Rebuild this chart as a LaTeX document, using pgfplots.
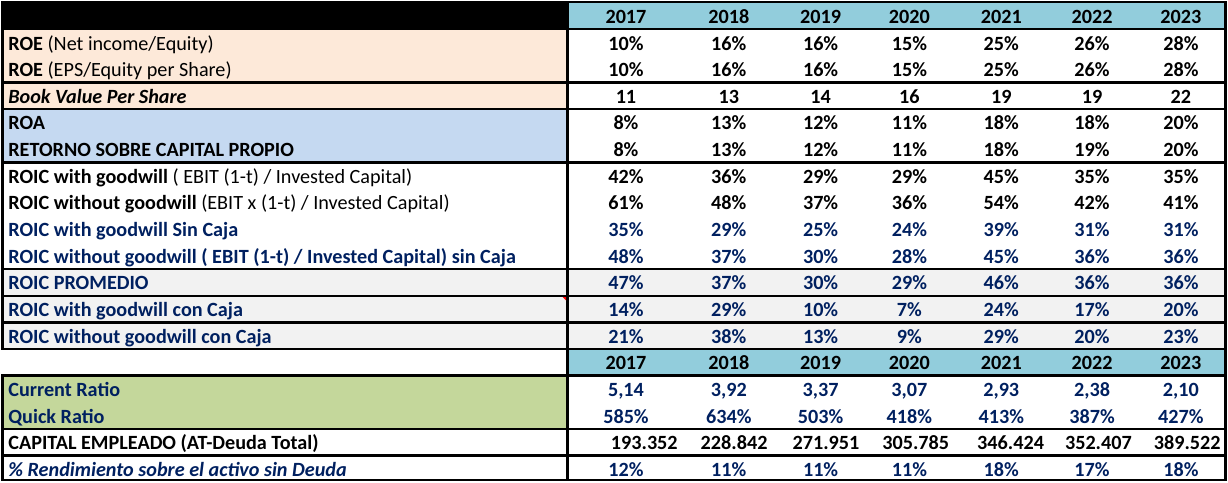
\documentclass[border=0pt]{standalone}
\usepackage{fontspec}
\setmainfont{Carlito}
\usepackage{pgfplots}
\usepackage{pgfplotstable}
\pgfplotsset{compat=1.18}
\definecolor{navy}{RGB}{0,32,96}
\definecolor{hdr}{HTML}{92CDDC}
\definecolor{peach}{HTML}{FDE9D9}
\definecolor{lblue}{HTML}{C5D9F1}
\definecolor{lgray}{HTML}{F2F2F2}
\definecolor{lgreen}{HTML}{C4D79B}
\newcommand\cf{\fontsize{20.3}{24}\selectfont}

\pgfplotstableread{
x    capx yr   roeA roeB bvps roa rsc rwg rwog rwgs rwogs prom rwgc rwogc cur  quick cap     rend
626  678  2017 10   10   11   8   8   42  61   35   48    47   14   21    5,14 585   193.352 12
729  768  2018 16   16   13   13  13  36  48   29   37    37   29   38    3,92 634   228.842 11
821  860  2019 16   16   14   12  12  29  37   25   30    30   10   13    3,37 503   271.951 11
910  950  2020 15   15   16   11  11  29  36   24   28    29   7    9     3,07 418   305.785 11
1002 1045 2021 25   25   19   18  18  45  54   39   45    46   24   29    2,93 413   346.424 18
1093 1133 2022 26   26   19   18  19  35  42   31   36    36   17   20    2,38 387   352.407 17
1182 1222 2023 28   28   22   20  20  35  41   31   36    36   20   23    2,10 427   389.522 18
}\data

\pgfplotsset{
  cell/.style={draw=none, mark=none, forget plot, nodes near coords,
    point meta=explicit symbolic,
    every node near coord/.append style={anchor=base, inner sep=0pt, font=\cf\bfseries, text=#1}},
  cell/.default=black,
  pct/.style={cell=#1, nodes near coords={\pgfplotspointmeta\%}},
  pct/.default=black,
}

\begin{document}
\begin{tikzpicture}
\begin{axis}[
  width=1228bp, height=481bp, scale only axis,
  xmin=0, xmax=1228, ymin=0, ymax=481, y dir=reverse,
  axis lines=none, clip=false,
]
% backgrounds
\fill[black]  (axis cs:0,0) rectangle (axis cs:567,28.1);
\fill[hdr]    (axis cs:567,0) rectangle (axis cs:1227,28.1);
\fill[hdr]    (axis cs:567,348.5) rectangle (axis cs:1227,375.2);
\fill[peach]  (axis cs:0,28.1) rectangle (axis cs:567,108.2);
\fill[lblue]  (axis cs:0,108.2) rectangle (axis cs:567,161.6);
\fill[lgray]  (axis cs:0,268.4) rectangle (axis cs:1227,348.5);
\fill[lgreen] (axis cs:0,375.2) rectangle (axis cs:567,428.6);
% borders
\draw[line width=2.4bp] (axis cs:0,1) -- (axis cs:1228,1);
\draw[line width=2.4bp] (axis cs:0,28.1) -- (axis cs:1228,28.1);
\draw[line width=2.4bp] (axis cs:0,81.5) -- (axis cs:1228,81.5);
\draw[line width=2.4bp] (axis cs:0,108.2) -- (axis cs:1228,108.2);
\draw[line width=2.4bp] (axis cs:0,161.6) -- (axis cs:1228,161.6);
\draw[line width=2.4bp] (axis cs:0,268.4) -- (axis cs:1228,268.4);
\draw[line width=2.4bp] (axis cs:0,295.1) -- (axis cs:1228,295.1);
\draw[line width=2.4bp] (axis cs:0,321.8) -- (axis cs:1228,321.8);
\draw[line width=2.4bp] (axis cs:0,348.5) -- (axis cs:1228,348.5);
\draw[line width=2.4bp] (axis cs:0,375.2) -- (axis cs:1228,375.2);
\draw[line width=2.4bp] (axis cs:0,428.6) -- (axis cs:1228,428.6);
\draw[line width=2.4bp] (axis cs:0,455.3) -- (axis cs:1228,455.3);
\draw[line width=2.4bp] (axis cs:0,479.9) -- (axis cs:1228,479.9);
\draw[line width=2.4bp] (axis cs:1.2,0) -- (axis cs:1.2,348.5);
\draw[line width=2.4bp] (axis cs:1.2,375.2) -- (axis cs:1.2,481);
\draw[line width=2.4bp] (axis cs:567.3,0) -- (axis cs:567.3,481);
\draw[line width=2.4bp] (axis cs:1226.8,0) -- (axis cs:1226.8,481);
\fill[red] (axis cs:562.5,296.4) -- (axis cs:566,296.4) -- (axis cs:566,299.9) -- cycle;

% labels
\node[anchor=base west, inner sep=0pt, font=\cf] at (axis cs:7,48.9) {\textbf{ROE} (Net income/Equity)};
\node[anchor=base west, inner sep=0pt, font=\cf] at (axis cs:7,75.6) {\textbf{ROE} (EPS/Equity per Share)};
\node[anchor=base west, inner sep=0pt, font=\cf] at (axis cs:7,102.3) {\textbf{\textit{Book Value Per Share}}};
\node[anchor=base west, inner sep=0pt, font=\cf] at (axis cs:7,129.0) {\textbf{ROA}};
\node[anchor=base west, inner sep=0pt, font=\cf] at (axis cs:7,155.7) {\textbf{RETORNO SOBRE CAPITAL PROPIO}};
\node[anchor=base west, inner sep=0pt, font=\cf] at (axis cs:7,182.4) {\textbf{ROIC with goodwill} ( EBIT (1-t) / Invested Capital)};
\node[anchor=base west, inner sep=0pt, font=\cf] at (axis cs:7,209.1) {\textbf{ROIC without goodwill} (EBIT x (1-t) / Invested Capital)};
\node[anchor=base west, inner sep=0pt, font=\cf, text=navy] at (axis cs:7,235.8) {\textbf{ROIC with goodwill Sin Caja}};
\node[anchor=base west, inner sep=0pt, font=\cf, text=navy] at (axis cs:7,262.5) {\textbf{ROIC without goodwill ( EBIT (1-t) / Invested Capital) sin Caja}};
\node[anchor=base west, inner sep=0pt, font=\cf, text=navy] at (axis cs:7,289.2) {\textbf{ROIC PROMEDIO}};
\node[anchor=base west, inner sep=0pt, font=\cf, text=navy] at (axis cs:7,315.9) {\textbf{ROIC with goodwill con Caja}};
\node[anchor=base west, inner sep=0pt, font=\cf, text=navy] at (axis cs:7,342.6) {\textbf{ROIC without goodwill con Caja}};
\node[anchor=base west, inner sep=0pt, font=\cf, text=navy] at (axis cs:7,396.0) {\textbf{Current Ratio}};
\node[anchor=base west, inner sep=0pt, font=\cf, text=navy] at (axis cs:7,422.7) {\textbf{Quick Ratio}};
\node[anchor=base west, inner sep=0pt, font=\cf] at (axis cs:7,449.4) {\textbf{CAPITAL EMPLEADO (AT-Deuda Total)}};
\node[anchor=base west, inner sep=0pt, font=\cf, text=navy] at (axis cs:7,476.1) {\textbf{\textit{\% Rendimiento sobre el activo sin Deuda}}};

% values
\addplot[cell] table[x=x, y expr=22.2, meta=yr] {\data};
\addplot[pct] table[x=x, y expr=48.9, meta=roeA] {\data};
\addplot[pct] table[x=x, y expr=75.6, meta=roeB] {\data};
\addplot[cell] table[x=x, y expr=102.3, meta=bvps] {\data};
\addplot[pct] table[x=x, y expr=129.0, meta=roa] {\data};
\addplot[pct] table[x=x, y expr=155.7, meta=rsc] {\data};
\addplot[pct] table[x=x, y expr=182.4, meta=rwg] {\data};
\addplot[pct] table[x=x, y expr=209.1, meta=rwog] {\data};
\addplot[pct=navy] table[x=x, y expr=235.8, meta=rwgs] {\data};
\addplot[pct=navy] table[x=x, y expr=262.5, meta=rwogs] {\data};
\addplot[pct=navy] table[x=x, y expr=289.2, meta=prom] {\data};
\addplot[pct=navy] table[x=x, y expr=315.9, meta=rwgc] {\data};
\addplot[pct=navy] table[x=x, y expr=342.6, meta=rwogc] {\data};
\addplot[cell] table[x=x, y expr=369.3, meta=yr] {\data};
\addplot[cell=navy] table[x=x, y expr=396.0, meta=cur] {\data};
\addplot[pct=navy] table[x=x, y expr=422.7, meta=quick] {\data};
\addplot[cell, every node near coord/.append style={anchor=base east}] table[x=capx, y expr=449.4, meta=cap] {\data};
\addplot[pct=navy] table[x=x, y expr=476.1, meta=rend] {\data};
\end{axis}
\end{tikzpicture}
\end{document}
